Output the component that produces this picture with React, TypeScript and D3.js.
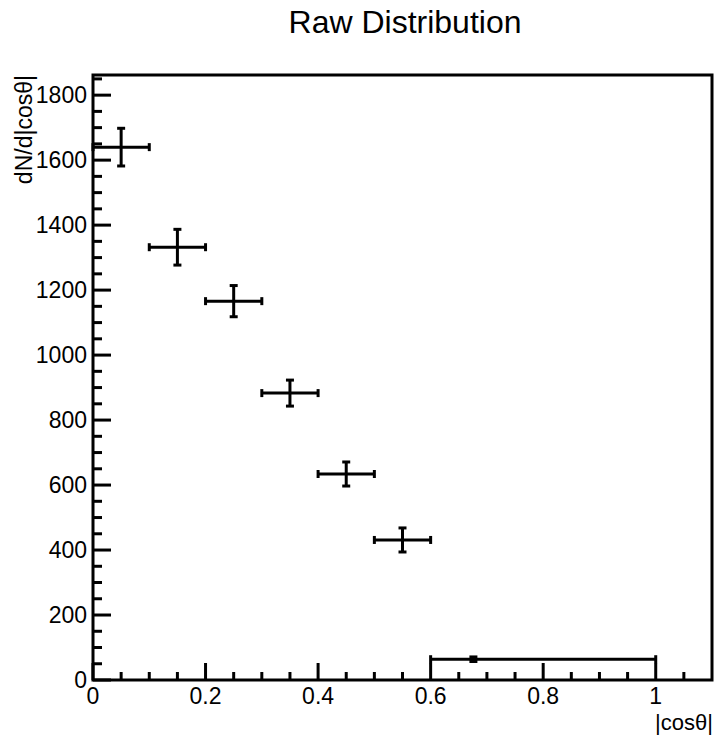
import React from "react";
import * as d3 from "d3";

const binLow = [0, 0.1, 0.2, 0.3, 0.4, 0.5, 0.6];
const binHigh = [0.1, 0.2, 0.3, 0.4, 0.5, 0.6, 1.0];
const xCenter = [0.05, 0.15, 0.25, 0.35, 0.45, 0.55, 0.676];
const yValues = [1640, 1332, 1166, 883, 634, 431, 64];
const yErrors = [58, 55, 48, 40, 37, 37, 7];

const yMajorTicks = [0, 200, 400, 600, 800, 1000, 1200, 1400, 1600, 1800];
const xMajorTicks = [0, 0.2, 0.4, 0.6, 0.8, 1];
const xTickLabels = ["0", "0.2", "0.4", "0.6", "0.8", "1"];

const W = 714;
const H = 735;
const left = 93;
const right = 712;
const top = 75;
const bottom = 680;
const FONT = "'Liberation Sans', Arial, Helvetica, sans-serif";

export default function App() {
  const x = d3.scaleLinear().domain([0, 1.1]).range([left, right]);
  const y = d3.scaleLinear().domain([0, 1862]).range([bottom, top]);

  const yMinor = d3.range(0, 1862, 50).filter((v) => v % 200 !== 0);
  const xMinor = d3.range(0, 23).map((i) => i * 0.05).filter((v) => v < 1.1 && Math.abs(v / 0.2 - Math.round(v / 0.2)) > 1e-6);

  const cap = 4;
  const sw = 3;

  return (
    <svg width={W} height={H} style={{ position: "absolute", left: 0, top: 0, background: "#fff" }}>
      <rect x={0} y={0} width={W} height={H} fill="#fff" />
      {/* Title */}
      <text x={405} y={33} textAnchor="middle" fontFamily={FONT} fontSize={32} fill="#000">
        Raw Distribution
      </text>

      {/* y ticks */}
      {yMajorTicks.map((v) => (
        <g key={"ym" + v}>
          <line x1={left} x2={left + 18} y1={y(v)} y2={y(v)} stroke="#000" strokeWidth={3} />
          <text x={87} y={y(v) + 8} textAnchor="end" fontFamily={FONT} fontSize={23} fill="#000">
            {v}
          </text>
        </g>
      ))}
      {yMinor.map((v) => (
        <line key={"yn" + v} x1={left} x2={left + 9} y1={y(v)} y2={y(v)} stroke="#000" strokeWidth={3} />
      ))}

      {/* x ticks */}
      {xMajorTicks.map((v, i) => (
        <g key={"xm" + v}>
          <line x1={x(v)} x2={x(v)} y1={bottom} y2={bottom - 17} stroke="#000" strokeWidth={3} />
          <text x={x(v)} y={704} textAnchor="middle" fontFamily={FONT} fontSize={23} fill="#000">
            {xTickLabels[i]}
          </text>
        </g>
      ))}
      {xMinor.map((v) => (
        <line key={"xn" + v} x1={x(v)} x2={x(v)} y1={bottom} y2={bottom - 8} stroke="#000" strokeWidth={3} />
      ))}

      {/* Frame */}
      <rect x={left} y={top} width={right - left} height={bottom - top} fill="none" stroke="#000" strokeWidth={3} />

      {/* Axis titles */}
      <text x={713} y={730} textAnchor="end" fontFamily={FONT} fontSize={22} fill="#000">
        |cosθ|
      </text>
      <text
        transform={`translate(32, ${top}) rotate(-90)`}
        textAnchor="end"
        fontFamily={FONT}
        fontSize={23}
        fill="#000"
      >
        dN/d|cosθ|
      </text>

      {/* Data points with error bars */}
      {yValues.map((v, i) => {
        const cx = x(xCenter[i]);
        const cy = y(v);
        const x0 = x(binLow[i]);
        const x1 = x(binHigh[i]);
        const yTop = y(v + yErrors[i]);
        const yBot = y(v - yErrors[i]);
        return (
          <g key={"p" + i} stroke="#000" strokeWidth={sw}>
            <line x1={x0} x2={x1} y1={cy} y2={cy} />
            <line x1={x0} x2={x0} y1={cy - cap} y2={cy + cap} />
            <line x1={x1} x2={x1} y1={cy - cap} y2={cy + cap} />
            <line x1={cx} x2={cx} y1={yTop} y2={yBot} />
            <line x1={cx - cap} x2={cx + cap} y1={yTop} y2={yTop} />
            <line x1={cx - cap} x2={cx + cap} y1={yBot} y2={yBot} />
          </g>
        );
      })}
    </svg>
  );
}
